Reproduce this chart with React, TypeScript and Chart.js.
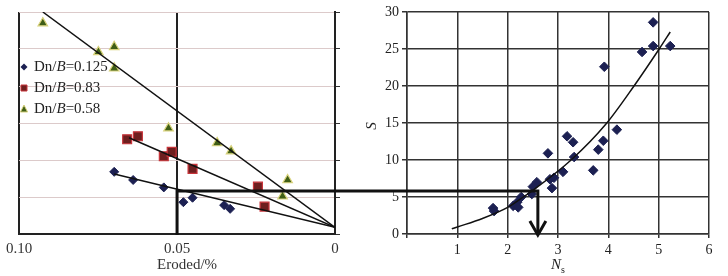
import React, { useEffect, useRef } from 'react';
import { Chart, registerables } from 'chart.js';

Chart.register(...registerables);

// ---------- data ----------
const erodedTicks = [0.1, 0.05, 0];
const sMin = 0;
const sMax = 30;
const sStep = 5;
const nsMin = 0;
const nsMax = 6;

const legendValues = ['0.125', '0.83', '0.58'];

// Left panel: Eroded/% vs S
const dn0125X = [0.0699, 0.0639, 0.0542, 0.048, 0.0451, 0.0351, 0.0332];
const dn0125Y = [8.4, 7.3, 6.3, 4.3, 4.9, 3.9, 3.4];
const dn083X = [0.0658, 0.0624, 0.0542, 0.0517, 0.0451, 0.0244, 0.0223];
const dn083Y = [12.8, 13.2, 10.5, 11.1, 8.8, 6.4, 3.7];
const dn058X = [0.0925, 0.0749, 0.0699, 0.0699, 0.0527, 0.0373, 0.0329, 0.015, 0.0166];
const dn058Y = [28.5, 24.6, 25.3, 22.4, 14.3, 12.3, 11.2, 7.3, 5.1];

const fit0125X = [0.0699, 0];
const fit0125Y = [8.1, 0.9];
const fit083X = [0.0652, 0];
const fit083Y = [13.0, 0.9];
const fit058X = [0.0925, 0];
const fit058Y = [30, 0.9];

// Right panel: Ns vs S
const nsX = [4.89, 4.67, 4.89, 5.23, 3.92, 4.17, 3.18, 3.3, 3.9, 2.8, 3.32, 3.8, 3.7, 3.1, 2.84, 2.92, 2.88, 2.58, 2.5, 2.48, 2.27, 2.19, 2.11, 2.21, 1.71, 1.73];
const nsY = [28.6, 24.6, 25.4, 25.4, 22.6, 14.1, 13.2, 12.4, 12.6, 10.9, 10.4, 11.4, 8.6, 8.4, 7.4, 7.6, 6.2, 7.0, 6.4, 5.4, 5.0, 4.3, 3.8, 3.6, 3.5, 3.1];

const curveX = [0.89, 1.0, 1.5, 2.0, 2.31, 2.48, 3.26, 3.97, 4.51, 5.01, 5.23];
const curveY = [0.7, 0.95, 2.1, 3.6, 5.0, 5.8, 10, 15, 20, 25, 27.3];

// link line
const linkEroded = 0.05;
const linkS = 5.8;
const linkNs = 2.6;

// ---------- styles ----------
const SERIF = '"Liberation Serif", "DejaVu Serif", serif';
const BLUE = '#1c2052';
const RED_FILL = '#6e1f1f';
const RED_EDGE = '#c8343a';
const GREEN_FILL = '#3f5e16';
const GREEN_EDGE = '#d8d27c';

const pts = (xs: number[], ys: number[]) => xs.map((x, i) => ({ x, y: ys[i] }));

function drawMarker(ctx: CanvasRenderingContext2D, kind: number, x: number, y: number) {
  ctx.save();
  ctx.beginPath();
  if (kind === 0) {
    const r = 3.5;
    ctx.moveTo(x - r, y);
    ctx.lineTo(x, y - r);
    ctx.lineTo(x + r, y);
    ctx.lineTo(x, y + r);
    ctx.closePath();
    ctx.fillStyle = BLUE;
    ctx.fill();
  } else if (kind === 1) {
    ctx.rect(x - 3, y - 3, 6, 6);
    ctx.fillStyle = RED_FILL;
    ctx.fill();
    ctx.strokeStyle = RED_EDGE;
    ctx.lineWidth = 1;
    ctx.stroke();
  } else {
    ctx.moveTo(x, y - 4);
    ctx.lineTo(x + 3.6, y + 3);
    ctx.lineTo(x - 3.6, y + 3);
    ctx.closePath();
    ctx.fillStyle = GREEN_FILL;
    ctx.fill();
    ctx.strokeStyle = GREEN_EDGE;
    ctx.lineWidth = 1;
    ctx.stroke();
  }
  ctx.restore();
}

const leftDecor = {
  id: 'leftDecor',
  afterDatasetsDraw(chart: any) {
    const { ctx, scales, chartArea } = chart;
    const x = scales.x;
    const y = scales.y;
    ctx.save();
    // link line
    const px = x.getPixelForValue(linkEroded);
    const py = y.getPixelForValue(linkS);
    const p0 = y.getPixelForValue(0);
    ctx.strokeStyle = '#111';
    ctx.lineWidth = 3;
    ctx.beginPath();
    ctx.moveTo(px, p0 + 1);
    ctx.lineTo(px, py);
    ctx.lineTo(chart.width + 2, py);
    ctx.stroke();

    // legend
    const rows = [67, 88, 109];
    ctx.textBaseline = 'middle';
    ctx.textAlign = 'left';
    ctx.fillStyle = '#222';
    legendValues.forEach((v, i) => {
      drawMarker(ctx, i, 24, rows[i]);
      let tx = 34;
      ctx.font = `15px ${SERIF}`;
      ctx.fillText('Dn/', tx, rows[i]);
      tx += ctx.measureText('Dn/').width;
      ctx.font = `italic 15px ${SERIF}`;
      ctx.fillText('B', tx, rows[i]);
      tx += ctx.measureText('B').width;
      ctx.font = `15px ${SERIF}`;
      ctx.fillText('=' + v, tx, rows[i]);
    });

    // x title
    ctx.font = `15px ${SERIF}`;
    ctx.textAlign = 'center';
    ctx.fillStyle = '#333';
    ctx.fillText('Eroded/%', (chartArea.left + chartArea.right) / 2 + 10, 265);
    ctx.restore();
  },
};

const rightDecor = {
  id: 'rightDecor',
  afterDatasetsDraw(chart: any) {
    const { ctx, scales, chartArea } = chart;
    const x = scales.x;
    const y = scales.y;
    ctx.save();
    const px = x.getPixelForValue(linkNs);
    const py = y.getPixelForValue(linkS);
    const p0 = y.getPixelForValue(0);
    ctx.strokeStyle = '#111';
    ctx.lineWidth = 3;
    ctx.beginPath();
    ctx.moveTo(-2, py);
    ctx.lineTo(px, py);
    ctx.lineTo(px, p0);
    ctx.stroke();
    ctx.beginPath();
    ctx.moveTo(px - 8, p0 - 13);
    ctx.lineTo(px, p0 + 1);
    ctx.lineTo(px + 8, p0 - 13);
    ctx.stroke();

    // y title S
    ctx.fillStyle = '#222';
    ctx.textAlign = 'center';
    ctx.textBaseline = 'middle';
    ctx.save();
    ctx.translate(27, (chartArea.top + chartArea.bottom) / 2 + 3);
    ctx.rotate(-Math.PI / 2);
    ctx.font = `italic 15px ${SERIF}`;
    ctx.fillText('S', 0, 0);
    ctx.restore();

    // x title Ns
    const cx = (chartArea.left + chartArea.right) / 2;
    ctx.font = `italic 15px ${SERIF}`;
    ctx.textAlign = 'center';
    ctx.fillText('N', cx - 2, 265);
    ctx.font = `10px ${SERIF}`;
    ctx.textAlign = 'left';
    ctx.fillText('s', cx + 3, 270);
    ctx.restore();
  },
};

export default function App() {
  const leftRef = useRef<HTMLCanvasElement>(null);
  const rightRef = useRef<HTMLCanvasElement>(null);

  useEffect(() => {
    const fitLine = (xs: number[], ys: number[]) => ({
      data: pts(xs, ys),
      showLine: true,
      borderColor: '#111',
      borderWidth: 1.5,
      pointRadius: 0,
      pointHoverRadius: 0,
      fill: false,
    });

    const left = new Chart(leftRef.current as HTMLCanvasElement, {
      type: 'scatter',
      data: {
        datasets: [
          fitLine(fit058X, fit058Y),
          fitLine(fit083X, fit083Y),
          fitLine(fit0125X, fit0125Y),
          {
            data: pts(dn058X, dn058Y),
            pointStyle: 'triangle',
            pointRadius: 5.5,
            backgroundColor: GREEN_FILL,
            borderColor: GREEN_EDGE,
            borderWidth: 1.2,
          },
          {
            data: pts(dn083X, dn083Y),
            pointStyle: 'rect',
            pointRadius: 6.3,
            backgroundColor: RED_FILL,
            borderColor: RED_EDGE,
            borderWidth: 1.2,
          },
          {
            data: pts(dn0125X, dn0125Y),
            pointStyle: 'rectRot',
            pointRadius: 4.5,
            backgroundColor: BLUE,
            borderColor: BLUE,
            borderWidth: 1,
          },
        ] as any,
      },
      options: {
        animation: false,
        responsive: false,
        devicePixelRatio: 1,
        layout: { padding: { left: 17, top: 12, right: 0, bottom: 0 } },
        plugins: { legend: { display: false }, tooltip: { enabled: false } },
        scales: {
          x: {
            type: 'linear',
            reverse: true,
            min: 0,
            max: 0.1,
            afterBuildTicks: (s: any) => {
              s.ticks = erodedTicks.map((v) => ({ value: v }));
            },
            afterFit: (s: any) => {
              s.height = 42;
            },
            ticks: {
              autoSkip: false,
              maxRotation: 0,
              padding: 6,
              color: '#333',
              font: { family: SERIF, size: 15 },
              callback: (v: any) => (Number(v) === 0 ? '0' : Number(v).toFixed(2)),
            },
            grid: { color: '#222', lineWidth: 2, drawTicks: false },
            border: { color: '#222', width: 2 },
          },
          y: {
            type: 'linear',
            position: 'right',
            min: sMin,
            max: sMax,
            afterFit: (s: any) => {
              s.width = 10;
            },
            ticks: { stepSize: sStep, display: false },
            grid: { color: '#dccaca', lineWidth: 1, tickColor: '#333', tickLength: 5 },
            border: { color: '#222', width: 2 },
          },
        },
      } as any,
      plugins: [leftDecor],
    });

    const right = new Chart(rightRef.current as HTMLCanvasElement, {
      type: 'scatter',
      data: {
        datasets: [
          {
            data: pts(curveX, curveY),
            showLine: true,
            borderColor: '#111',
            borderWidth: 1.5,
            pointRadius: 0,
            cubicInterpolationMode: 'monotone',
            fill: false,
          },
          {
            data: pts(nsX, nsY),
            pointStyle: 'rectRot',
            pointRadius: 4.8,
            backgroundColor: BLUE,
            borderColor: BLUE,
            borderWidth: 1,
          },
        ] as any,
      },
      options: {
        animation: false,
        responsive: false,
        devicePixelRatio: 1,
        layout: { padding: { left: 0, top: 12, right: 19, bottom: 0 } },
        plugins: { legend: { display: false }, tooltip: { enabled: false } },
        scales: {
          x: {
            type: 'linear',
            min: nsMin,
            max: nsMax,
            afterFit: (s: any) => {
              s.height = 42;
            },
            ticks: {
              stepSize: 1,
              autoSkip: false,
              maxRotation: 0,
              padding: 4,
              color: '#222',
              font: { family: SERIF, size: 14 },
              callback: (v: any) => (Number(v) === 0 ? '' : String(v)),
            },
            grid: { color: '#333', lineWidth: 1.5, tickColor: '#333', tickLength: 4 },
            border: { color: '#333', width: 1.5 },
          },
          y: {
            type: 'linear',
            min: sMin,
            max: sMax,
            afterFit: (s: any) => {
              s.width = 62;
            },
            ticks: {
              stepSize: sStep,
              padding: 3,
              color: '#222',
              font: { family: SERIF, size: 14 },
            },
            grid: { color: '#333', lineWidth: 1.5, tickColor: '#333', tickLength: 5 },
            border: { color: '#333', width: 1.5 },
          },
        },
      } as any,
      plugins: [rightDecor],
    });

    return () => {
      left.destroy();
      right.destroy();
    };
  }, []);

  return (
    <div style={{ position: 'fixed', left: 0, top: 0, width: 728, height: 276, background: '#fff' }}>
      <canvas
        ref={leftRef}
        width={345}
        height={276}
        style={{ position: 'absolute', left: 0, top: 0, width: 345, height: 276 }}
      />
      <canvas
        ref={rightRef}
        width={383}
        height={276}
        style={{ position: 'absolute', left: 345, top: 0, width: 383, height: 276 }}
      />
    </div>
  );
}
